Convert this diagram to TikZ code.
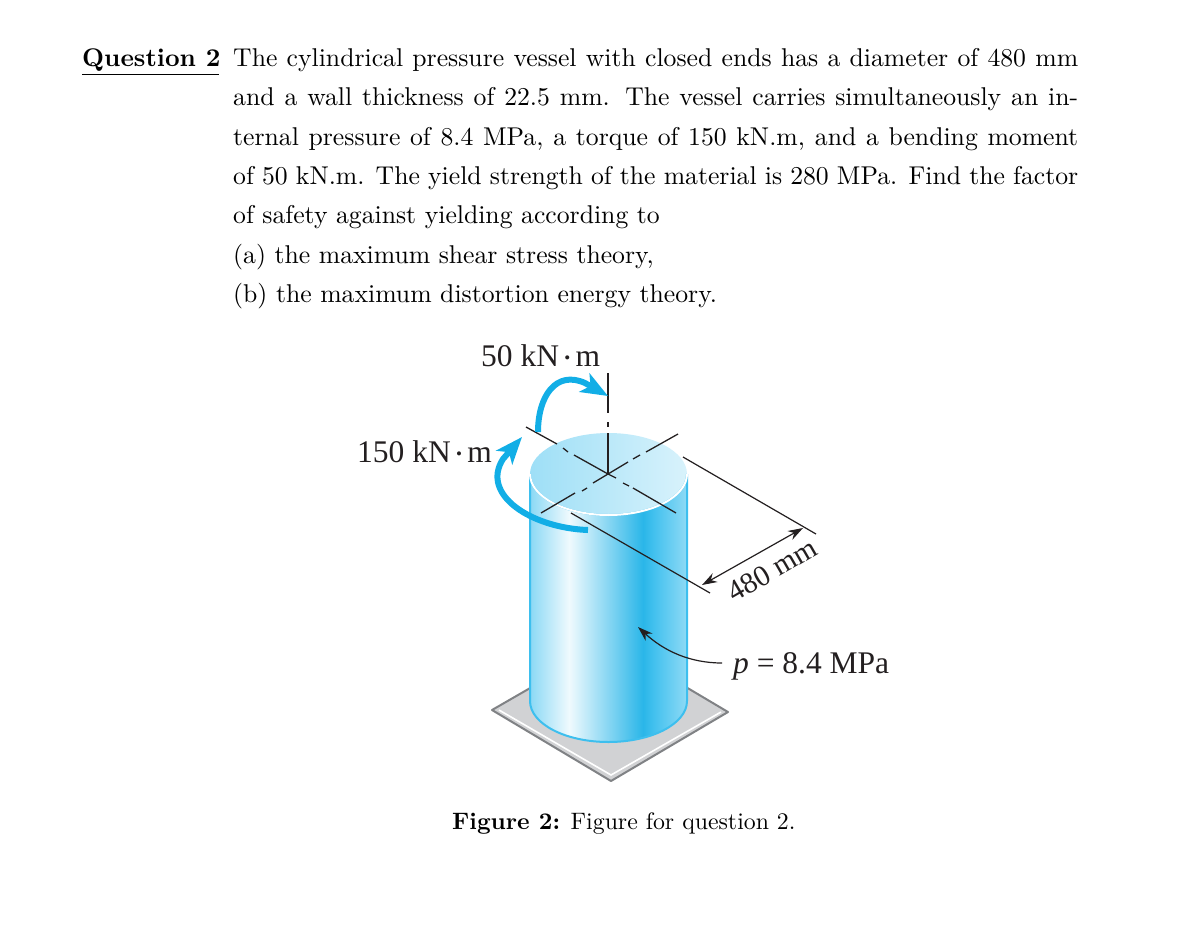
\documentclass[tikz,border=0pt]{standalone}
\usepackage{fontspec}
\usepackage{xcolor}
\usetikzlibrary{arrows.meta,positioning,calc}
\setmainfont{lmroman10-regular}[Extension=.otf,BoldFont=lmroman10-bold,ItalicFont=lmroman10-italic]
\newfontfamily\figfont{Liberation Serif}
\definecolor{vesselblue}{HTML}{3DBFEE}
\definecolor{momentblue}{HTML}{12AEE6}
\definecolor{platefill}{HTML}{D1D2D4}
\definecolor{plateedge}{HTML}{808285}
\definecolor{figtext}{HTML}{231F20}
\pgfdeclarehorizontalshading{vesselshade}{100bp}{
	color(0bp)=(vesselblue!60); color(25bp)=(vesselblue!60);
	color(37.5bp)=(white!92!vesselblue); color(61bp)=(momentblue!90!white);
	color(65bp)=(vesselblue!95); color(75bp)=(vesselblue!58); color(100bp)=(vesselblue!58)}
\newcommand{\kNm}{kN\,{\fontsize{17}{17}\selectfont\raisebox{2.5pt}{•}}\,m}
\tikzset{
	axisline/.style={figtext,line width=1.3pt},
	dimline/.style={figtext,line width=1.2pt},
	figlabel/.style={font=\figfont\fontsize{31.5}{34}\selectfont,text=figtext,inner sep=0pt},
	moment/.style={momentblue,line width=6pt,-{Stealth[length=27pt,width=21pt,inset=7pt]}},
}
\begin{document}
\begin{tikzpicture}[x=1pt,y=-1pt]
	\useasboundingbox (0,0) rectangle (1189,946);
	% question text
	\node[anchor=base west,inner sep=0pt,font=\fontsize{25.5}{30}\selectfont\bfseries] (qtag) at (82,66) {Question 2};
	\draw[line width=1pt] (82,74) -- (219,74);
	\node[anchor=north west,inner sep=0pt,text width=845pt,align=justify,font=\fontsize{25.7}{39.4}\selectfont] (qbody) at (233,48) {\parindent=0pt\hyphenpenalty=10000\exhyphenpenalty=0\tolerance=9999
		The cylindrical pressure vessel with closed ends has a diameter of 480 mm\linebreak
		and a wall thickness of 22.5 mm. The vessel carries simultaneously an in-\linebreak
		ternal pressure of 8.4 MPa, a torque of 150 kN.m, and a bending moment\linebreak
		of 50 kN.m. The yield strength of the material is 280 MPa. Find the factor\linebreak
		of safety against yielding according to\par
		(a) the maximum shear stress theory,\par
		(b) the maximum distortion energy theory.\par};
	% plate
	\draw[fill=platefill,draw=plateedge,line width=2pt,line join=round] (492,710) -- (611,781) -- (728,712) -- (610,642) -- cycle;
	\draw[white,line width=1.6pt] (499,710) -- (611,775) -- (721,712);
	% vessel
	\path[shade,shading=vesselshade] (530,474) -- (530,701) arc[start angle=180,end angle=0,x radius=78.5,y radius=41] -- (687,474) -- cycle;
	\draw[vesselblue,line width=2pt] (687,474) -- (687,701) arc[start angle=0,end angle=180,x radius=78.5,y radius=41] -- (530,474);
	\shade[left color=vesselblue!50,right color=vesselblue!20] (608.5,474) ellipse[x radius=78.5,y radius=41];
	\draw[vesselblue,line width=2pt] (530,474) arc[start angle=180,end angle=360,x radius=78.5,y radius=-41];
	\draw[white,line width=2pt] (530,474) arc[start angle=180,end angle=0,x radius=78.5,y radius=41];
	% axes
	\draw[axisline] (608,373) -- (608,413) (608,422) -- (608,427) (608,433) -- (608,474);
	\draw[axisline] (526,427) -- (557,444) (563,448) -- (568,452) (574,455) -- (608,474) -- (616,478) (623,483) -- (629,486) (633,488) -- (676,513);
	\draw[axisline] (541,513) -- (575,493) (582,491) -- (587,488) (593,483) -- (628,462) (633,459) -- (640,455) (646,452) -- (678,434);
	% dimension
	\coordinate (dimAa) at (683,457);
	\coordinate (dimAb) at (816,534);
	\coordinate (dimBa) at (571,513);
	\coordinate (dimBb) at (710,593);
	\coordinate (dimL) at (702,585);
	\coordinate (dimR) at (803,528);
	\draw[dimline] (dimAa) -- (dimAb);
	\draw[dimline] (dimBa) -- (dimBb);
	\draw[dimline,{Stealth[length=15pt,width=10pt]}-{Stealth[length=15pt,width=10pt]}] (dimL) -- (dimR);
	\node[figlabel,rotate=30,font=\figfont\fontsize{29.5}{32}\selectfont] (dimlabel) at (772,570) {480 mm};
	% pressure
	\node[figlabel,anchor=base west] (plabel) at (733,673) {{\itshape p} = 8.4 MPa};
	\coordinate (ptip) at (638,627);
	\draw[dimline,-{Stealth[length=15pt,width=10pt]}] (plabel.west |- 0,663) ++(-11,0) .. controls (690,663) and (664,651) .. (ptip);
	% moments
	\node[figlabel,anchor=base west] (bendlabel) at (481,366) {50 \kNm};
	\node[figlabel,anchor=base west] (torqlabel) at (357,462) {150 \kNm};
	\draw[moment] (538,432) .. controls (538,396) and (556,370) .. (585,383) -- (608,396);
	\draw[moment] (588,530) .. controls (532,528) and (480,495) .. (503,459) -- (522,437);
	% caption
	\node[anchor=base west,inner sep=0pt,font=\fontsize{23.8}{28}\selectfont] (caption) at (452,829) {\textbf{Figure 2:} Figure for question 2.};
\end{tikzpicture}
\end{document}
